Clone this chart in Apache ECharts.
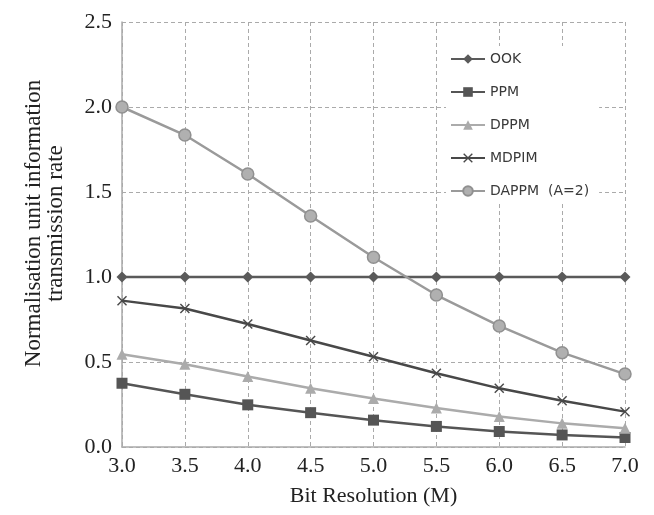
<!DOCTYPE html>
<html>
<head>
<meta charset="utf-8">
<script src="https://cdn.jsdelivr.net/npm/echarts@6/dist/echarts.min.js"></script>
<style>
  html, body { margin: 0; padding: 0; background: #fff; }
  #chart { width: 654px; height: 515px; }
</style>
</head>
<body>
<div id="chart"></div>
<script>
// bit resolution M
var bits = [3.0, 3.5, 4.0, 4.5, 5.0, 5.5, 6.0, 6.5, 7.0]
// values
var ook   = [1.0, 1.0, 1.0, 1.0, 1.0, 1.0, 1.0, 1.0, 1.0]
var ppm   = [0.375, 0.31, 0.248, 0.202, 0.158, 0.121, 0.091, 0.071, 0.056]
var dppm  = [0.546, 0.487, 0.415, 0.346, 0.285, 0.229, 0.179, 0.139, 0.11]
var mdpim = [0.861, 0.815, 0.724, 0.626, 0.531, 0.434, 0.345, 0.272, 0.208]
var dappm = [2.0, 1.835, 1.606, 1.359, 1.116, 0.894, 0.712, 0.555, 0.429]

var chart = echarts.init(document.getElementById('chart'))

function pts(arr) {
  return bits.map(function (b, i) { return [b, arr[i]] })
}

var crossSym = 'path://M0,1L1,0L5,4L9,0L10,1L6,5L10,9L9,10L5,6L1,10L0,9L4,5Z'

function mk(name, arr, color, symbol, size, extra) {
  var s = {
    name: name,
    type: 'line',
    data: pts(arr),
    symbol: symbol,
    symbolSize: size,
    showAllSymbol: true,
    lineStyle: { color: color, width: 2.5 },
    itemStyle: { color: color },
    emphasis: { disabled: true },
    z: 3
  }
  if (extra) s.itemStyle = Object.assign(s.itemStyle, extra)
  return s
}

var serif = 'Liberation Serif'

chart.setOption({
  animation: false,
  backgroundColor: '#fff',
  grid: { left: 122, right: 29, top: 22, bottom: 68, containLabel: false },
  legend: {
    orient: 'vertical',
    left: 446,
    top: 46,
    itemWidth: 34,
    itemHeight: 12,
    itemGap: 19,
    padding: [6, 10, 6, 4],
    backgroundColor: '#fff',
    textStyle: { fontFamily: 'DejaVu Sans', fontSize: 14, color: '#3a3a3a' },
    data: ['OOK', 'PPM', 'DPPM', 'MDPIM', 'DAPPM  (A=2)']
  },
  xAxis: {
    type: 'value',
    min: 3, max: 7, interval: 0.5,
    name: 'Bit Resolution (M)',
    nameLocation: 'middle',
    nameGap: 38,
    nameTextStyle: { fontFamily: serif, fontSize: 22, color: '#222' },
    axisLine: { lineStyle: { color: '#aaa', width: 1.5 } },
    axisTick: { show: false },
    axisLabel: {
      fontFamily: serif, fontSize: 22, color: '#222', margin: 8,
      formatter: function (v) { return v.toFixed(1) }
    },
    splitLine: { show: true, lineStyle: { color: '#aaa', type: [4, 3], width: 1 } }
  },
  yAxis: {
    type: 'value',
    min: 0, max: 2.5, interval: 0.5,
    name: 'Normalisation unit information\ntransmission rate',
    nameLocation: 'middle',
    nameGap: 55,
    nameTextStyle: { fontFamily: serif, fontSize: 23, color: '#222', lineHeight: 22, padding: [0, 0, 0, 22] },
    axisLine: { show: true, lineStyle: { color: '#aaa', width: 1.5 } },
    axisTick: { show: false },
    axisLabel: {
      fontFamily: serif, fontSize: 22, color: '#222', margin: 10,
      formatter: function (v) { return v.toFixed(1) }
    },
    splitLine: { show: true, lineStyle: { color: '#aaa', type: [4, 3], width: 1 } }
  },
  series: [
    mk('OOK', ook, '#5a5a5a', 'diamond', 11),
    mk('PPM', ppm, '#555555', 'rect', 11),
    mk('DPPM', dppm, '#ababab', 'triangle', 11),
    mk('MDPIM', mdpim, '#484848', crossSym, 10),
    mk('DAPPM  (A=2)', dappm, '#9a9a9a', 'circle', 12, { color: '#b0b0b0', borderColor: '#909090', borderWidth: 1.5 })
  ]
})
</script>
</body>
</html>
